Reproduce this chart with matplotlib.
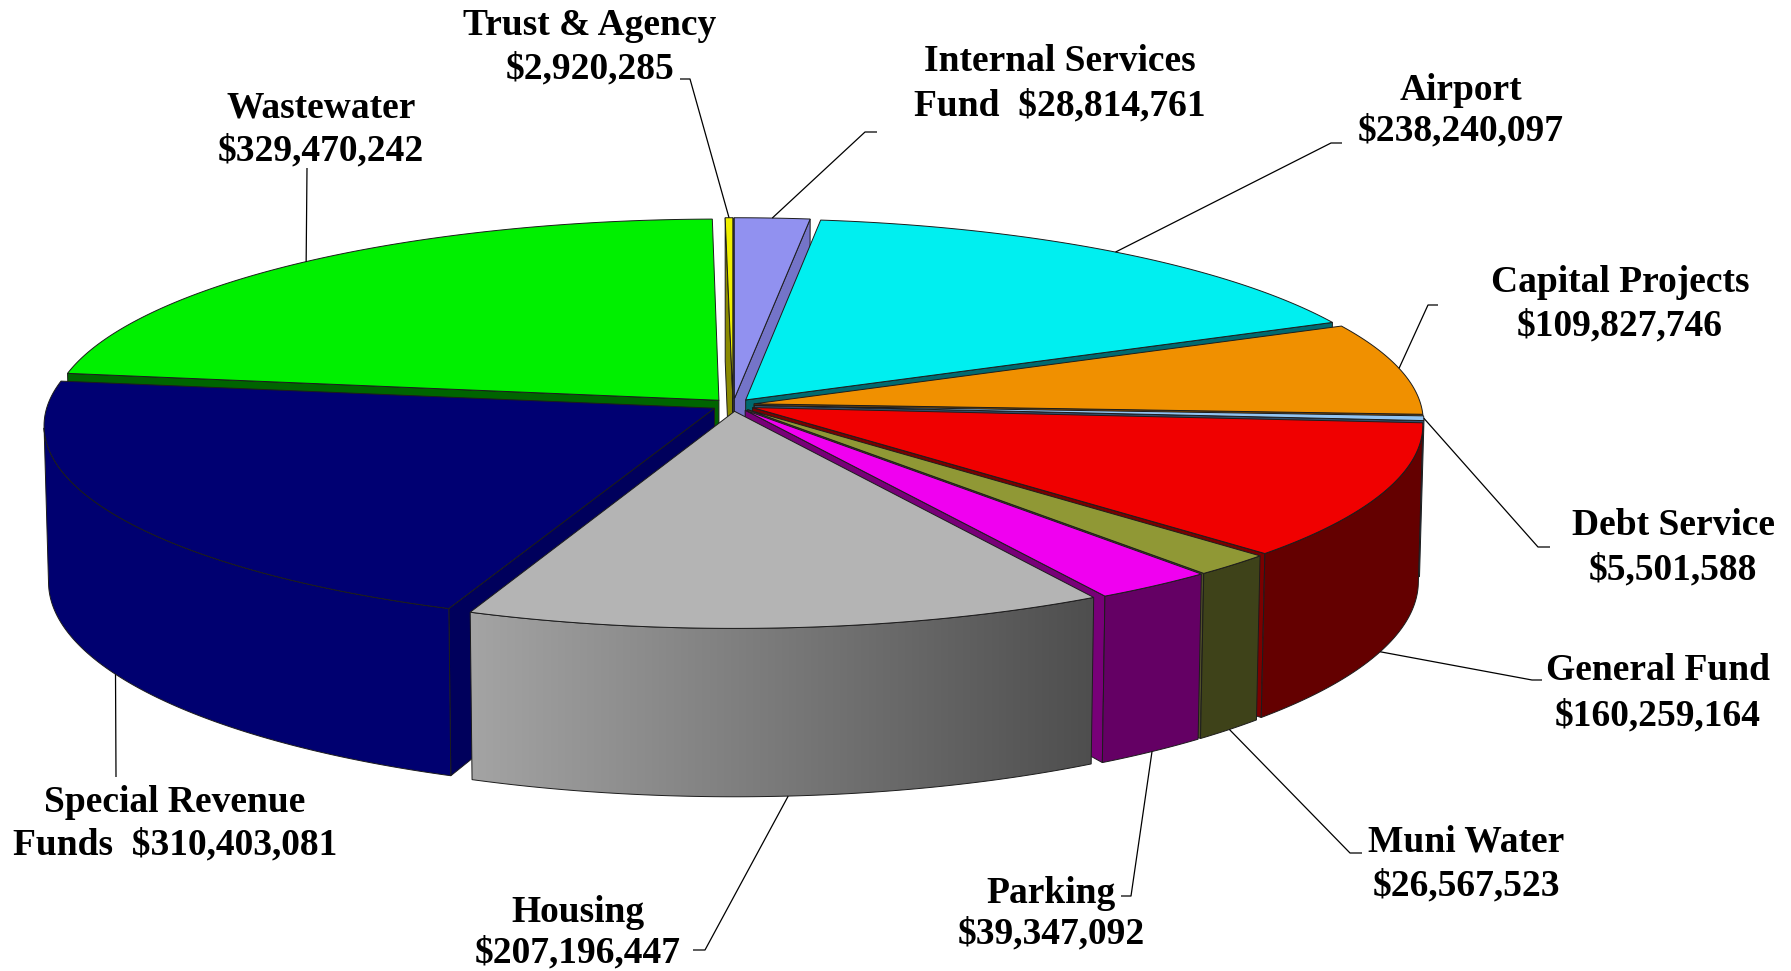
import numpy as np
import matplotlib
matplotlib.use("Agg")
import matplotlib.pyplot as plt
from matplotlib.patches import Polygon
from matplotlib.colors import LinearSegmentedColormap

# ---------------- data ----------------
categories = ["Internal Services Fund", "Airport", "Capital Projects", "Debt Service",
              "General Fund", "Muni Water", "Parking", "Housing",
              "Special Revenue Funds", "Wastewater", "Trust & Agency"]
values = [28814761, 238240097, 109827746, 5501588, 160259164, 26567523,
          39347092, 207196447, 310403081, 329470242, 2920285]
label_fmt = ["Internal Services\nFund  {}", "Airport\n{}", "Capital Projects\n{}",
             "Debt Service\n{}", "General Fund\n{}", "Muni Water\n{}", "Parking\n{}",
             "Housing\n{}", "Special Revenue\nFunds  {}", "Wastewater\n{}",
             "Trust & Agency\n{}"]

# ---------------- style ----------------
top_colors = ["#9191F0", "#00EFF0", "#F09000", "#92C4F2", "#F00000", "#909835",
              "#F000F0", "#B4B4B4", "#000072", "#00F000", "#F0F000"]
wall_colors = ["#5858A0", "#007C80", "#7A4800", "#4A6A8A", "#640000", "#3E4219",
               "#640064", "#808080", "#000070", "#006400", "#808000"]
face_colors = ["#7474C8", "#006A70", "#8A5000", "#304E6C", "#7A0000", "#505028",
               "#780078", "#707070", "#00005C", "#006400", "#8A8A00"]
explode = [0.032] * 11
anchor_bottom = [False, False, False, False, True, True, True, True, True, False, False]
# label baseline positions (x centre, line1 baseline, line gap) and leader elbows/ends
label_pos = [(1060, 71, 44), (1461, 100, 40), (1620, 292, 43), (1673, 535, 44),
             (1658, 680, 45), (1466, 852, 43), (1051, 903, 40), (578, 922, 40),
             (175, 812, 42), (321, 117, 43), (590, 35, 43)]
leader_pts = [[(865, 132), (877, 132)], [(1331, 143), (1342, 143)],
              [(1428, 305), (1438, 305)], [(1538, 547), (1550, 547)],
              [(1532, 680), (1542, 680)], [(1350, 853), (1362, 853)],
              [(1131, 896), (1121, 896)], [(705, 950), (693, 950)],
              [(116, 777)], [(307, 168)], [(690, 79), (680, 79)]]

W, H = 1791, 971
fig = plt.figure(figsize=(W / 100, H / 100), dpi=100)
ax = fig.add_axes([0, 0, 1, 1])
ax.set_xlim(0, W)
ax.set_ylim(H, 0)
ax.axis("off")

# ---------------- projection ----------------
SINP = 0.296
COSP = np.sqrt(1 - SINP ** 2)
DIST = 11.2
SCALE = 667
CX, CY = 733, 405
HGT = 0.245
cam = np.array([0.0, -DIST * COSP, DIST * SINP])


def proj(x, y, z):
    x = np.asarray(x, float); y = np.asarray(y, float); z = np.asarray(z, float)
    yc = y * SINP + z * COSP
    zc = -y * COSP + z * SINP
    f = DIST / (DIST - zc)
    return CX + SCALE * x * f, CY - SCALE * yc * f


def visible(normal, point):
    return np.dot(normal, cam - np.asarray(point)) > 0


EDGE = "#1c1c1c"
LW = 0.7

vals = np.array(values, float)
frac = vals / vals.sum()
ends = np.cumsum(frac) * 2 * np.pi
starts = ends - frac * 2 * np.pi
mids = (starts + ends) / 2

order = np.argsort(-np.cos(mids))
gray_cmap = LinearSegmentedColormap.from_list("g", ["#A4A4A4", "#4E4E4E"])

z = 10
for i in order:
    t1, t2, m = starts[i], ends[i], mids[i]
    e = explode[i]
    ox, oy = e * np.sin(m), e * np.cos(m)
    n = max(3, int(np.degrees(t2 - t1) * 2))
    th = np.linspace(t1, t2, n)
    rx, ry = ox + np.sin(th), oy + np.cos(th)

    # radial faces
    for t, nrm in ((t1, np.array([-np.cos(t1), np.sin(t1), 0])),
                   (t2, np.array([np.cos(t2), -np.sin(t2), 0]))):
        mp = np.array([ox + 0.5 * np.sin(t), oy + 0.5 * np.cos(t), -HGT / 2])
        if visible(nrm, mp):
            xs = [ox, ox + np.sin(t), ox + np.sin(t), ox]
            ys = [oy, oy + np.cos(t), oy + np.cos(t), oy]
            zs = [0, 0, -HGT, -HGT]
            px, py = proj(xs, ys, zs)
            ax.add_patch(Polygon(np.c_[px, py], closed=True, fc=face_colors[i],
                                 ec=EDGE, lw=LW, zorder=z))
    z += 1

    # outer wall
    segm = (th[:-1] + th[1:]) / 2
    vis = np.array([visible(np.array([np.sin(a), np.cos(a), 0]),
                            [ox + np.sin(a), oy + np.cos(a), 0]) for a in segm])
    k = 0
    while k < len(vis):
        if vis[k]:
            j = k
            while j < len(vis) and vis[j]:
                j += 1
            a = th[k:j + 1]
            wx, wy = ox + np.sin(a), oy + np.cos(a)
            tx, ty = proj(wx, wy, np.zeros_like(a))
            bx, by = proj(wx, wy, np.full_like(a, -HGT))
            poly = np.r_[np.c_[tx, ty], np.c_[bx, by][::-1]]
            if categories[i] == "Housing":
                p = Polygon(poly, closed=True, fc="none", ec=EDGE, lw=LW, zorder=z + 0.5)
                ax.add_patch(p)
                clip = Polygon(poly, closed=True, fc="none", ec="none",
                               transform=ax.transData)
                ax.add_patch(clip)
                grad = np.linspace(0, 1, 256).reshape(1, -1)
                im = ax.imshow(grad, cmap=gray_cmap, aspect="auto",
                               extent=(poly[:, 0].min(), poly[:, 0].max(),
                                       poly[:, 1].max(), poly[:, 1].min()),
                               zorder=z, interpolation="bilinear")
                im.set_clip_path(clip)
            else:
                ax.add_patch(Polygon(poly, closed=True, fc=wall_colors[i],
                                     ec=EDGE, lw=LW, zorder=z))
            k = j
        else:
            k += 1
    z += 1

    # top face
    px, py = proj(np.r_[ox, rx], np.r_[oy, ry], np.zeros(n + 1))
    ax.add_patch(Polygon(np.c_[px, py], closed=True, fc=top_colors[i],
                         ec=EDGE, lw=LW, zorder=z))
    z += 1

ax.set_xlim(0, W)
ax.set_ylim(H, 0)

# ---------------- labels & leaders ----------------
FONT = ["Liberation Serif", "DejaVu Serif"]
for i in range(len(values)):
    m = mids[i]
    e = explode[i]
    zz = -HGT if anchor_bottom[i] else 0.0
    axp, ayp = proj(e * np.sin(m) + np.sin(m), e * np.cos(m) + np.cos(m), zz)
    pts = [(float(axp), float(ayp))] + leader_pts[i]
    lx, ly = zip(*pts)
    ax.plot(lx, ly, color="black", lw=0.9, zorder=100, solid_capstyle="butt")

    text = label_fmt[i].format(f"${values[i]:,}")
    l1, l2 = text.split("\n")
    x0, yb, gap = label_pos[i]
    for line, yy in ((l1, yb), (l2, yb + gap)):
        ax.text(x0, yy, line, ha="center", va="baseline", fontsize=27,
                fontweight="bold", family=FONT, color="black", zorder=101)

fig.savefig("out.png", dpi=100, facecolor="white")
